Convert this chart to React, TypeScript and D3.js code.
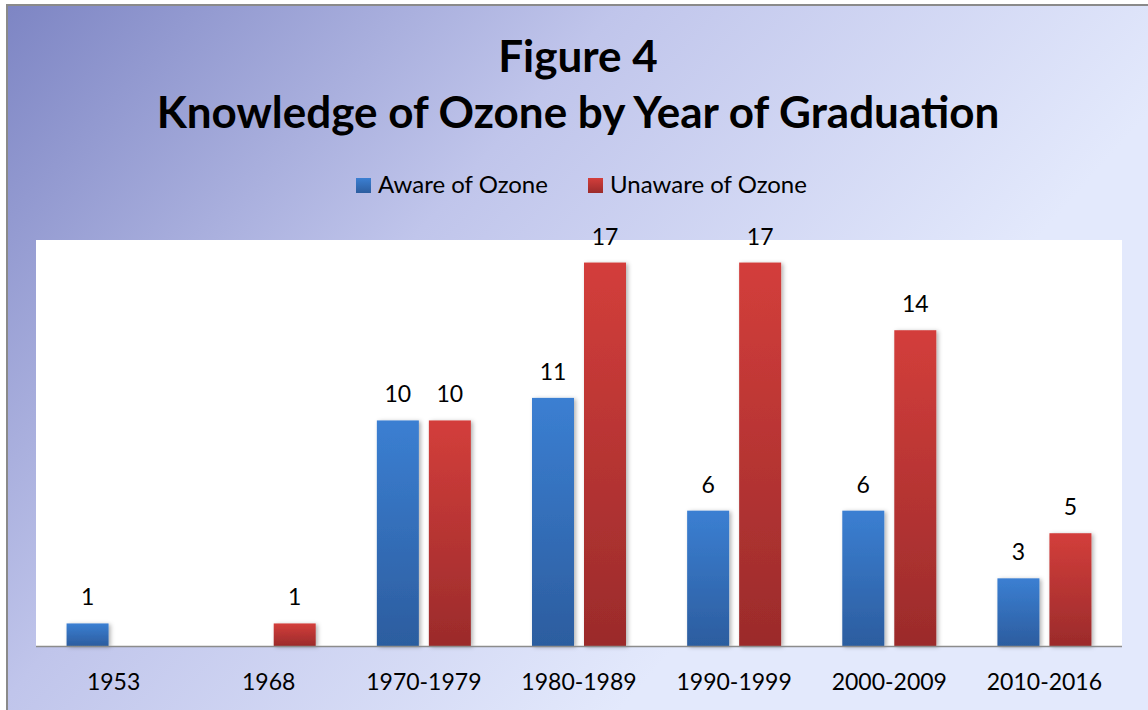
import React, { useRef, useEffect } from 'react';
import * as d3 from 'd3';

const categories = ['1953', '1968', '1970-1979', '1980-1989', '1990-1999', '2000-2009', '2010-2016'];
const aware = [1, 0, 10, 11, 6, 6, 3];
const unaware = [0, 1, 10, 17, 17, 14, 5];
const seriesNames = ['Aware of Ozone', 'Unaware of Ozone'];

const App: React.FC = () => {
  const svgRef = useRef<SVGSVGElement>(null);

  useEffect(() => {
    if (!svgRef.current) return;
    const svg = d3.select(svgRef.current);
    svg.selectAll('*').remove();

    const width = 1148;
    const height = 710;
    const font = 'Lato, Carlito, "Open Sans", sans-serif';
    const plot = { left: 36, right: 1122, top: 240, bottom: 646 };

    const defs = svg.append('defs');
    const bg = defs.append('linearGradient')
      .attr('id', 'bg').attr('gradientUnits', 'userSpaceOnUse')
      .attr('x1', 0).attr('y1', 0).attr('x2', 700).attr('y2', 620);
    bg.append('stop').attr('offset', 0).attr('stop-color', '#7c84c3');
    bg.append('stop').attr('offset', 0.5).attr('stop-color', '#c0c5eb');
    bg.append('stop').attr('offset', 1).attr('stop-color', '#e3e9fc');

    const grad = (id: string, top: string, bottom: string) => {
      const g = defs.append('linearGradient').attr('id', id)
        .attr('x1', 0).attr('y1', 0).attr('x2', 0).attr('y2', 1);
      g.append('stop').attr('offset', 0).attr('stop-color', top);
      g.append('stop').attr('offset', 1).attr('stop-color', bottom);
    };
    grad('blue', '#3b7fd2', '#2c5d9f');
    grad('red', '#d33e3b', '#9b2b2b');

    const shadow = defs.append('filter').attr('id', 'shadow')
      .attr('x', '-20%').attr('y', '-20%').attr('width', '150%').attr('height', '150%');
    shadow.append('feDropShadow').attr('dx', 2).attr('dy', 1).attr('stdDeviation', 2)
      .attr('flood-color', '#000').attr('flood-opacity', 0.3);

    svg.append('rect').attr('x', 7).attr('y', 5).attr('width', width).attr('height', height)
      .attr('fill', 'url(#bg)').attr('stroke', '#8a8a8a').attr('stroke-width', 2);

    svg.append('text').attr('x', 578).attr('y', 72).attr('text-anchor', 'middle')
      .attr('font-family', font).attr('font-weight', 'bold').attr('font-size', 44)
      .attr('fill', '#000').text('Figure 4');
    svg.append('text').attr('x', 578).attr('y', 128).attr('text-anchor', 'middle')
      .attr('font-family', font).attr('font-weight', 'bold').attr('font-size', 44)
      .attr('fill', '#000').text('Knowledge of Ozone by Year of Graduation');

    // legend
    const legendX = [356, 588];
    seriesNames.forEach((name, i) => {
      svg.append('rect').attr('x', legendX[i]).attr('y', 178).attr('width', 15).attr('height', 15)
        .attr('fill', i === 0 ? 'url(#blue)' : 'url(#red)');
      svg.append('text').attr('x', legendX[i] + 22).attr('y', 193)
        .attr('font-family', font).attr('font-size', 24).attr('fill', '#000').text(name);
    });

    svg.append('rect').attr('x', plot.left).attr('y', plot.top)
      .attr('width', plot.right - plot.left).attr('height', plot.bottom - plot.top).attr('fill', '#fff');

    const x = d3.scaleBand<string>().domain(categories).range([plot.left, plot.right]);
    const y = d3.scaleLinear().domain([0, 18]).range([plot.bottom, plot.top]);
    const barW = 42;
    const gap = 10;

    const series = [
      { values: aware, fill: 'url(#blue)', offset: -gap / 2 - barW },
      { values: unaware, fill: 'url(#red)', offset: gap / 2 },
    ];

    series.forEach(s => {
      const data = categories.map((c, i) => ({ c, v: s.values[i] })).filter(d => d.v > 0);
      svg.append('g').selectAll('rect').data(data).enter().append('rect')
        .attr('x', d => x(d.c)! + x.bandwidth() / 2 + s.offset)
        .attr('y', d => y(d.v))
        .attr('width', barW)
        .attr('height', d => y(0) - y(d.v))
        .attr('fill', s.fill)
        .attr('filter', 'url(#shadow)');
      svg.append('g').selectAll('text').data(data).enter().append('text')
        .attr('x', d => x(d.c)! + x.bandwidth() / 2 + s.offset + barW / 2)
        .attr('y', d => y(d.v) - 18)
        .attr('text-anchor', 'middle')
        .attr('font-family', font).attr('font-size', 23).attr('fill', '#000')
        .text(d => d.v);
    });

    svg.append('line').attr('x1', plot.left).attr('x2', plot.right)
      .attr('y1', plot.bottom + 0.5).attr('y2', plot.bottom + 0.5)
      .attr('stroke', '#8c8c8c').attr('stroke-width', 1.5);

    svg.append('g').selectAll('text').data(categories).enter().append('text')
      .attr('x', d => x(d)! + x.bandwidth() / 2)
      .attr('y', 690)
      .attr('text-anchor', 'middle')
      .attr('font-family', font).attr('font-size', 23).attr('fill', '#000')
      .text(d => d);
  }, []);

  return <svg ref={svgRef} width={1148} height={710} style={{ position: 'absolute', left: 0, top: 0 }}></svg>;
};

export default App;
